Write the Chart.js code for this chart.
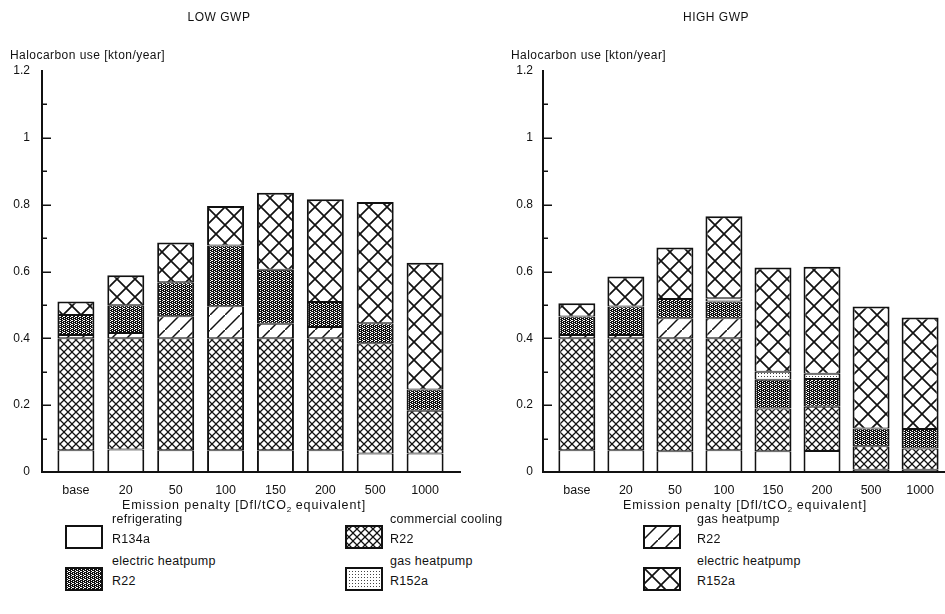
<!DOCTYPE html>
<html>
<head>
<meta charset="utf-8">
<script src="https://cdn.jsdelivr.net/npm/chart.js@4.4.1/dist/chart.umd.min.js"></script>
<style>
  html, body { margin: 0; padding: 0; background: #fff; }
  body { width: 945px; height: 614px; position: relative; overflow: hidden;
         font-family: "Liberation Sans", Arial, Helvetica, sans-serif; color: #111; }
  canvas.chart { position: absolute; top: 0; }
  .txt { position: absolute; white-space: nowrap; line-height: 1; }
  .center { transform: translate(-50%, -50%); }
  .vmid { transform: translateY(-50%); }
  .panel-title { font-size: 12px; letter-spacing: 0.5px; }
  .y-title { font-size: 12px; letter-spacing: 0.45px; }
  .x-title { font-size: 12.5px; letter-spacing: 0.9px; }
  .x-title sub { font-size: 8px; vertical-align: -3px; letter-spacing: 0; }
  .legend-item { position: absolute; }
  .legend-item canvas { position: absolute; left: 0; top: 0; }
  .legend-item .lbl { position: absolute; font-size: 12.5px; line-height: 20px; white-space: nowrap; letter-spacing: 0.3px; }
</style>
</head>
<body>
<canvas id="lowChart" class="chart" width="472" height="500" style="left:0px"></canvas>
<canvas id="highChart" class="chart" width="473" height="500" style="left:472px"></canvas>

<div class="txt panel-title center" style="left:219px; top:17px">LOW GWP</div>
<div class="txt panel-title center" style="left:716px; top:17px">HIGH GWP</div>
<div class="txt y-title vmid" style="left:10px; top:55px">Halocarbon use [kton/year]</div>
<div class="txt y-title vmid" style="left:511px; top:55px">Halocarbon use [kton/year]</div>
<div class="txt x-title center" style="left:244px; top:506px">Emission penalty [Dfl/tCO<sub>2</sub> equivalent]</div>
<div class="txt x-title center" style="left:745px; top:506px">Emission penalty [Dfl/tCO<sub>2</sub> equivalent]</div>

<div id="legend"></div>

<script>
// Emission penalty scenarios (Dfl per tonne CO2 equivalent)
const categories = ['base', '20', '50', '100', '150', '200', '500', '1000'];

// Series names: application / refrigerant
const seriesApplications = ['refrigerating', 'commercial cooling', 'gas heatpump', 'electric heatpump', 'gas heatpump', 'electric heatpump'];
const seriesRefrigerants = ['R134a', 'R22', 'R22', 'R22', 'R152a', 'R152a'];

// LOW GWP scenario, halocarbon use per segment [kton/year]
const lowRefrigeratingR134a   = [0.065, 0.067, 0.065, 0.065, 0.065, 0.065, 0.055, 0.055];
const lowCommercialCoolingR22 = [0.335, 0.333, 0.335, 0.335, 0.335, 0.335, 0.330, 0.128];
const lowGasHeatpumpR22       = [0.010, 0.016, 0.066, 0.096, 0.044, 0.034, 0,     0    ];
const lowElectricHeatpumpR22  = [0.060, 0.083, 0.102, 0.182, 0.161, 0.075, 0.060, 0.064];
const lowGasHeatpumpR152a     = [0,     0,     0,     0,     0,     0,     0,     0    ];
const lowElectricHeatpumpR152a= [0.040, 0.090, 0.119, 0.118, 0.231, 0.307, 0.363, 0.379];

// HIGH GWP scenario, halocarbon use per segment [kton/year]
const highRefrigeratingR134a   = [0.065, 0.065, 0.062, 0.065, 0.062, 0.063, 0.007, 0.007];
const highCommercialCoolingR22 = [0.335, 0.335, 0.338, 0.335, 0.128, 0.132, 0.070, 0.063];
const highGasHeatpumpR22       = [0.010, 0.010, 0.060, 0.060, 0,     0,     0,     0    ];
const highElectricHeatpumpR22  = [0.055, 0.085, 0.058, 0.050, 0.086, 0.083, 0.053, 0.059];
const highGasHeatpumpR152a     = [0,     0,     0,     0.010, 0.024, 0.016, 0,     0    ];
const highElectricHeatpumpR152a= [0.040, 0.090, 0.154, 0.245, 0.312, 0.320, 0.365, 0.333];

// Value axis: 0 .. 1.2 kton/year, minor tick every 0.1, labelled every 0.2
const yAxisMax = 1.2;
const yAxisStep = 0.1;

const lowSeries = [lowRefrigeratingR134a, lowCommercialCoolingR22, lowGasHeatpumpR22,
                   lowElectricHeatpumpR22, lowGasHeatpumpR152a, lowElectricHeatpumpR152a];
const highSeries = [highRefrigeratingR134a, highCommercialCoolingR22, highGasHeatpumpR22,
                    highElectricHeatpumpR22, highGasHeatpumpR152a, highElectricHeatpumpR152a];

// Hatch style for each series
const seriesHatch = ['blank', 'crossFine', 'diagonal', 'stippleDark', 'dotsLight', 'crossLarge'];

const INK = '#111';

function makeTile(kind) {
  const c = document.createElement('canvas');
  let s;
  if (kind === 'crossFine') s = 8;
  else if (kind === 'crossLarge') s = 18;
  else if (kind === 'diagonal') s = 15;
  else if (kind === 'stippleDark') s = 4;
  else if (kind === 'dotsLight') s = 3;
  else s = 4;
  c.width = s; c.height = s;
  const g = c.getContext('2d');
  g.fillStyle = '#fff';
  g.fillRect(0, 0, s, s);
  g.strokeStyle = INK;
  if (kind === 'crossFine' || kind === 'crossLarge') {
    g.lineWidth = kind === 'crossFine' ? 1.25 : 1.7;
    g.beginPath();
    g.moveTo(-1, -1); g.lineTo(s + 1, s + 1);
    g.moveTo(-1, s + 1); g.lineTo(s + 1, -1);
    g.stroke();
  } else if (kind === 'diagonal') {
    g.lineWidth = 1.5;
    g.beginPath();
    g.moveTo(-1, s + 1); g.lineTo(s + 1, -1);
    g.stroke();
  } else if (kind === 'stippleDark') {
    g.fillStyle = INK;
    g.fillRect(0, 0, s, s);
    g.fillStyle = '#fff';
    [[0, 0], [2, 1], [0, 2], [2, 3], [3, 0]].forEach(([x, y]) => g.fillRect(x, y, 1, 1));
  } else if (kind === 'dotsLight') {
    g.fillStyle = '#444';
    g.fillRect(1, 1, 1, 1);
  }
  return c;
}

function makeFill(kind, ctx) {
  if (kind === 'blank') return '#fff';
  return ctx.createPattern(makeTile(kind), 'repeat');
}

// Tick marks drawn on the inside of the value axis (long = labelled, short = minor)
const innerTicks = {
  id: 'innerTicks',
  afterDraw(chart) {
    const yScale = chart.scales.y;
    const ctx = chart.ctx;
    const x0 = chart.chartArea.left;
    ctx.save();
    ctx.strokeStyle = INK;
    ctx.lineWidth = 1.5;
    yScale.ticks.forEach((t) => {
      if (t.value <= 1e-9 || t.value >= yScale.max - 1e-9) return;
      const py = Math.round(yScale.getPixelForValue(t.value)) + 0.25;
      const len = t.label ? 9 : 5;
      ctx.beginPath();
      ctx.moveTo(x0, py);
      ctx.lineTo(x0 + len, py);
      ctx.stroke();
    });
    ctx.restore();
  }
};

function buildChart(canvasId, series, opts) {
  const canvas = document.getElementById(canvasId);
  const ctx = canvas.getContext('2d');
  const datasets = series.map((values, d) => ({
    label: seriesApplications[d] + ' ' + seriesRefrigerants[d],
    data: values.map((v, i) => ({ x: i, y: v === 0 ? null : v })),
    backgroundColor: makeFill(seriesHatch[d], ctx),
    borderColor: INK,
    borderSkipped: false,
    borderWidth: (c) => {
      const i = c.dataIndex;
      const isTop = series.slice(c.datasetIndex + 1).every((s) => !s[i]);
      return { left: 2, right: 2, top: isTop ? 2 : 1, bottom: 1 };
    },
    barThickness: 37,
    inflateAmount: 0
  }));

  return new Chart(ctx, {
    type: 'bar',
    data: { datasets },
    plugins: [innerTicks],
    options: {
      responsive: false,
      devicePixelRatio: 1,
      animation: false,
      events: [],
      layout: { padding: { top: 71, right: opts.rightPad, bottom: 0, left: 0 } },
      plugins: { legend: { display: false }, tooltip: { enabled: false }, title: { display: false } },
      scales: {
        x: {
          type: 'linear',
          stacked: true,
          offset: false,
          min: opts.xMin,
          max: opts.xMax,
          grid: { display: false, drawTicks: false },
          border: { display: true, color: INK, width: 2 },
          afterFit: (s) => { s.height = 28; },
          afterBuildTicks: (s) => { s.ticks = categories.map((c, i) => ({ value: i })); },
          ticks: {
            includeBounds: false,
            autoSkip: false,
            maxRotation: 0,
            padding: 11,
            color: INK,
            font: { family: '"Liberation Sans", Arial, sans-serif', size: 12.5 },
            callback: (v) => (Number.isInteger(v) && categories[v] !== undefined) ? categories[v] : ''
          }
        },
        y: {
          stacked: true,
          min: 0,
          max: yAxisMax,
          grid: { display: false, drawTicks: false },
          border: { display: true, color: INK, width: 2 },
          afterFit: (s) => { s.width = opts.axisWidth; },
          ticks: {
            stepSize: yAxisStep,
            maxTicksLimit: 20,
            padding: opts.labelGap,
            color: INK,
            font: { family: '"Liberation Sans", Arial, sans-serif', size: 12 },
            callback: (v) => {
              const tenths = Math.round(v * 10);
              return tenths % 2 === 0 ? String(tenths / 10) : '';
            }
          }
        }
      }
    }
  });
}

buildChart('lowChart', lowSeries, { xMin: -0.68, xMax: 7.7, axisWidth: 42, rightPad: 12, labelGap: 12 });
buildChart('highChart', highSeries, { xMin: -0.69, xMax: 7.5, axisWidth: 71, rightPad: 0, labelGap: 10 });

// Legend: three columns, two rows, hatched swatch with two-line caption
const legendColumns = [65, 345, 643];
const legendTextLeft = [112, 390, 697];
const legendRowTop = [525, 567];
const legendOrder = [[0, 0, 0], [1, 0, 1], [2, 0, 2], [3, 1, 0], [4, 1, 1], [5, 1, 2]];
const legendRoot = document.getElementById('legend');
legendOrder.forEach(([d, row, col]) => {
  const item = document.createElement('div');
  item.className = 'legend-item';
  item.style.left = legendColumns[col] + 'px';
  item.style.top = legendRowTop[row] + 'px';
  const sw = document.createElement('canvas');
  sw.width = 38; sw.height = 24;
  const g = sw.getContext('2d');
  g.fillStyle = makeFill(seriesHatch[d], g);
  g.fillRect(0, 0, 38, 24);
  g.strokeStyle = INK;
  g.lineWidth = 2;
  g.strokeRect(1, 1, 36, 22);
  item.appendChild(sw);
  const lbl = document.createElement('div');
  lbl.className = 'lbl';
  lbl.style.left = (legendTextLeft[col] - legendColumns[col]) + 'px';
  lbl.style.top = '-16px';
  const l1 = document.createElement('div'); l1.textContent = seriesApplications[d];
  const l2 = document.createElement('div'); l2.textContent = seriesRefrigerants[d];
  lbl.appendChild(l1); lbl.appendChild(l2);
  item.appendChild(lbl);
  legendRoot.appendChild(item);
});
</script>
</body>
</html>
